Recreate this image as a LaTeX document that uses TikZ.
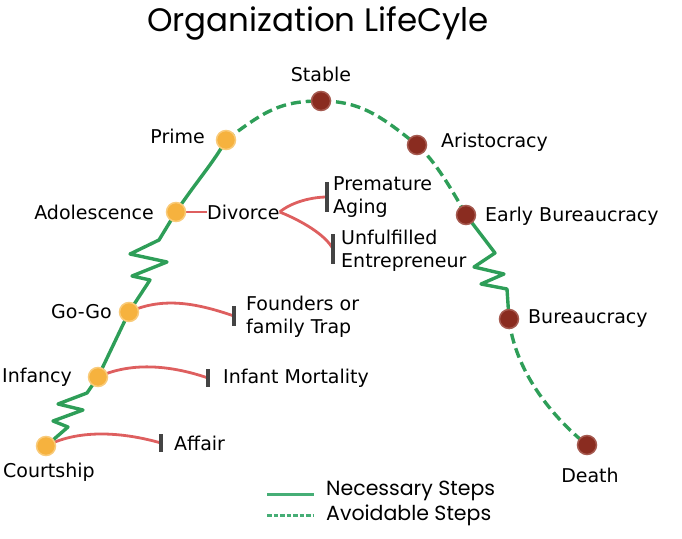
\documentclass[tikz,border=0pt]{standalone}
\usepackage{fontspec}
\setmainfont{DejaVu Sans}
\newfontfamily\titlefont{Poppins}
\usetikzlibrary{calc}
\definecolor{grn}{HTML}{2E9E58}
\definecolor{leggrn}{HTML}{46AE76}
\definecolor{redl}{HTML}{DE5F5F}
\definecolor{orng}{HTML}{F6B23E}
\definecolor{orngedge}{HTML}{F9CB7A}
\definecolor{brwn}{HTML}{8A2C20}
\definecolor{brwnedge}{HTML}{A65A50}
\definecolor{barc}{HTML}{444444}
\tikzset{
  x=1pt,y=-1pt,
  lbl/.style={font=\fontsize{19}{23}\selectfont, inner sep=0pt, text=black},
  odot/.style={circle, fill=orng, draw=orngedge, line width=1.5pt, minimum size=19pt, inner sep=0pt},
  bdot/.style={circle, fill=brwn, draw=brwnedge, line width=1.5pt, minimum size=19pt, inner sep=0pt},
  solidg/.style={draw=grn, line width=3.4pt, line join=round, line cap=round},
  dashg/.style={draw=grn, line width=3.4pt, dash pattern=on 10pt off 5pt},
  redline/.style={draw=redl, line width=2.8pt},
  barline/.style={draw=barc, line width=3.4pt},
}
\begin{document}
\begin{tikzpicture}
\useasboundingbox (0,0) rectangle (682,538);
% title
\node[font=\titlefont\fontsize{32.5}{36}\selectfont, inner sep=0pt] (title) at (318,23) {Organization LifeCyle};

% dot positions
\coordinate (pStable) at (321,101);
\coordinate (pPrime) at (226,140);
\coordinate (pAristo) at (417,145);
\coordinate (pAdol) at (176,212);
\coordinate (pEarly) at (466,215);
\coordinate (pGogo) at (129,312);
\coordinate (pBureau) at (509,319);
\coordinate (pInf) at (98,377);
\coordinate (pCourt) at (46,446);
\coordinate (pDeath) at (587,445);

% bar coordinates
\coordinate (bPrem) at (327,197);
\coordinate (bUnf) at (333,249);
\coordinate (bFound) at (234,316);
\coordinate (bInfant) at (208,378);
\coordinate (bAffair) at (161,443);

% labels
\node[lbl] (lStable) at (321,74) {Stable};
\node[lbl, anchor=east] (lPrime) at (205,136) {Prime};
\node[lbl, anchor=west] (lAristo) at (441,142) {Aristocracy};
\node[lbl, anchor=east] (lAdol) at (154,212) {Adolescence};
\node[lbl, anchor=west] (lDiv) at (207,212) {Divorce};
\node[lbl, anchor=west] (lEarly) at (485,216) {Early Bureaucracy};
\node[lbl, anchor=west, align=left] (lPrem) at (333,197) {Premature\\Aging};
\node[lbl, anchor=west, align=left] (lUnf) at (341,251) {Unfulfilled\\Entrepreneur};
\node[lbl, anchor=east] (lGogo) at (112,312) {Go-Go};
\node[lbl, anchor=west, align=left] (lFound) at (246,317) {Founders or\\family Trap};
\node[lbl, anchor=west] (lInf) at (2,377) {Infancy};
\node[lbl, anchor=west] (lInfant) at (223,378) {Infant Mortality};
\node[lbl, anchor=west] (lCourt) at (3,472) {Courtship};
\node[lbl, anchor=west] (lAffair) at (174,443) {Affair};
\node[lbl, anchor=west] (lBureau) at (528,319) {Bureaucracy};
\node[lbl] (lDeath) at (590,475) {Death};

% red branches
\draw[redline] (pCourt) .. controls +(35,-18) and +(-35,-10) .. (bAffair);
\draw[redline] (pInf) .. controls +(35,-16) and +(-35,-12) .. (bInfant);
\draw[redline] (pGogo) .. controls +(35,-16) and +(-35,-12) .. (bFound);
\draw[redline] (pAdol) -- (lDiv.west);
\draw[redline] (lDiv.east) .. controls +(12,-10) and +(-15,0) .. (bPrem);
\draw[redline] (lDiv.east) .. controls +(20,8) and +(-8,-15) .. (bUnf);

% bars
\draw[barline] ($(bAffair)+(0,-9)$) -- ($(bAffair)+(0,9)$);
\draw[barline] ($(bInfant)+(0,-9)$) -- ($(bInfant)+(0,9)$);
\draw[barline] ($(bFound)+(0,-10)$) -- ($(bFound)+(0,10)$);
\draw[barline] ($(bPrem)+(0,-15)$) -- ($(bPrem)+(0,15)$);
\draw[barline] ($(bUnf)+(0,-15)$) -- ($(bUnf)+(0,15)$);

% green life-cycle curve
\draw[solidg] (pCourt) -- (68,427) -- (53,421) -- (83,410) -- (58,404) -- (87,393) -- (pInf);
\draw[solidg] (pInf) -- (pGogo);
\draw[solidg] (pGogo) -- (150,280) -- (132,276) -- (167,262) -- (130,254) -- (159,240) -- (pAdol);
\draw[solidg] (pAdol) .. controls +(20,-30) and +(-12,22) .. (pPrime);
\draw[dashg] (pPrime) .. controls +(40,-30) and +(-40,0) .. (pStable);
\draw[dashg] (pStable) .. controls +(40,0) and +(-35,-28) .. (pAristo);
\draw[dashg] (pAristo) .. controls +(18,15) and +(-11,-20) .. (pEarly);
\draw[solidg] (pEarly) -- (495,253) -- (474,267) -- (504,274) -- (481,284) -- (507,289) -- (pBureau);
\draw[dashg] (pBureau) .. controls +(6,51) and +(-37,-30) .. (pDeath);

% dots
\node[bdot] (dStable) at (pStable) {};
\node[odot] (dPrime) at (pPrime) {};
\node[bdot] (dAristo) at (pAristo) {};
\node[odot] (dAdol) at (pAdol) {};
\node[bdot] (dEarly) at (pEarly) {};
\node[odot] (dGogo) at (pGogo) {};
\node[bdot] (dBureau) at (pBureau) {};
\node[odot] (dInf) at (pInf) {};
\node[odot] (dCourt) at (pCourt) {};
\node[bdot] (dDeath) at (pDeath) {};

% legend
\coordinate (legA1) at (267,494);
\coordinate (legA2) at (314,494);
\coordinate (legB1) at (267,515);
\coordinate (legB2) at (314,515);
\draw[draw=leggrn, line width=3pt] (legA1) -- (legA2);
\draw[draw=leggrn, line width=3pt, dash pattern=on 4.5pt off 2pt] (legB1) -- (legB2);
\node[font=\titlefont\fontsize{20.5}{24}\selectfont, anchor=west, inner sep=0pt] (legN) at (326,491) {Necessary Steps};
\node[font=\titlefont\fontsize{20.5}{24}\selectfont, anchor=west, inner sep=0pt] (legV) at (326,515) {Avoidable Steps};
\end{tikzpicture}
\end{document}
